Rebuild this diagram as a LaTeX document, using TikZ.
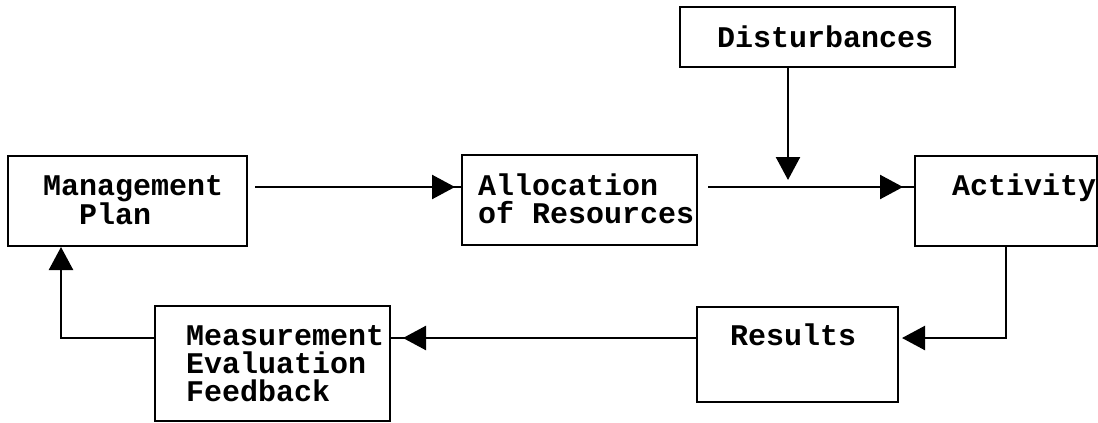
\documentclass[tikz,border=0pt]{standalone}
\usepackage{fontspec}
\newfontfamily\typewriter{Liberation Mono}
\usetikzlibrary{arrows.meta, decorations.markings}

\begin{document}
\begin{tikzpicture}[x=1pt, y=-1pt, line width=2.4pt, >={Triangle[length=23pt, width=24pt]},
    box/.style={draw, anchor=north west, outer sep=0pt, inner ysep=0pt, align=left,
        font=\typewriter\bfseries\fontsize{30}{28}\selectfont},
    flow/.style={->},
    tipgap/.style={postaction={decorate, decoration={markings, mark=at position -#1 with {\arrow{>}}}}}]
    \useasboundingbox (0,0) rectangle (1098,423);

    \node[box, inner xsep=35pt, text width=169pt, text height=39pt, text depth=51pt] (MP)  at (8,156)   {Management\\\hphantom{Ma}Plan};
    \node[box, inner xsep=16pt, text width=203pt, text height=40pt, text depth=50pt] (AR)  at (462,155) {Allocation\\\mbox{of\hphantom{x}Resources}};
    \node[box, inner xsep=37pt, text width=201pt, text height=40pt, text depth=20pt] (DI)  at (680,7)   {Disturbances};
    \node[box, inner xsep=37pt, text width=108pt, text height=39pt, text depth=51pt] (AC)  at (915,156) {Activity};
    \node[box, inner xsep=33pt, text width=135pt, text height=38pt, text depth=57pt] (RE)  at (697,307) {Results};
    \node[box, inner xsep=31pt, text width=173pt, text height=39pt, text depth=76pt] (MEF) at (155,306) {Measurement\\Evaluation\\Feedback};

    \coordinate (toprow) at (0,187);
    \coordinate (botrow) at (0,338);
    \coordinate (join)   at (788,187);
    \coordinate (back)   at (61,0);

    \path (MP.east |- toprow) edge [shorten <=8pt, tipgap=7pt] (AR.west |- toprow)
          (AR.east |- toprow) edge [shorten <=11pt, tipgap=12pt] (AC.west |- toprow)
          (DI.south -| join) edge [flow, shorten >=7pt] (join)
          (RE.west |- botrow) edge [tipgap=13pt] (MEF.east |- botrow);

    \draw[flow, shorten >=4pt] (AC.south) |- (RE.east |- botrow);
    \draw[flow, shorten >=1pt] (MEF.west |- botrow) -| (MP.south -| back);
\end{tikzpicture}
\end{document}
